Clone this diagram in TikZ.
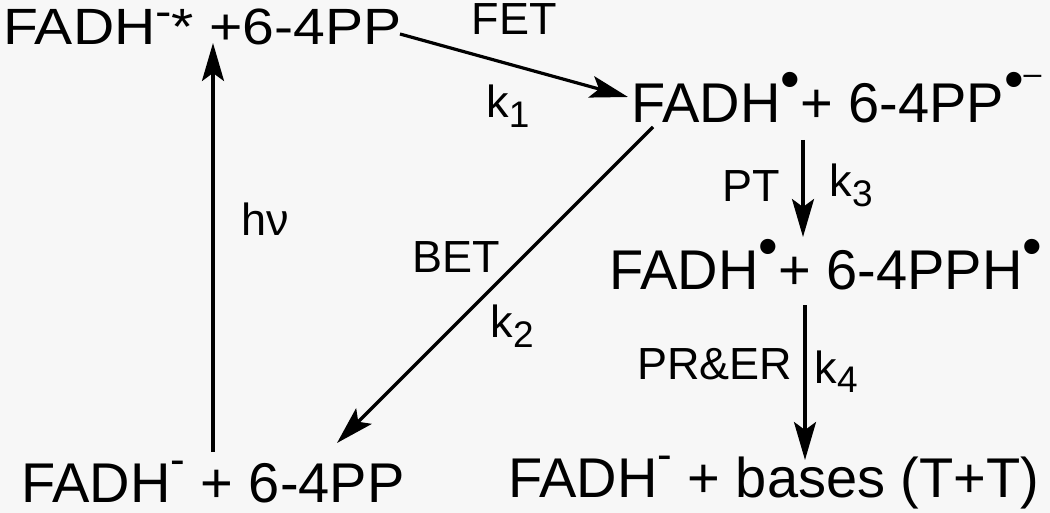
\documentclass[tikz,border=0pt]{standalone}
\usepackage{fontspec}
\setmainfont{Liberation Sans}
\newfontfamily\widesans[FakeStretch=1.12]{Liberation Sans}
\usetikzlibrary{positioning,arrows.meta}
\newcommand{\chg}[2][0.5em]{\raisebox{#1}{\fontsize{44}{44}\selectfont #2}}
\newcommand{\rdot}{\raisebox{0.44em}{\fontsize{56}{56}\selectfont\textbullet}}
\newcommand{\rk}[1]{k\raisebox{-0.22em}{\fontsize{37}{37}\selectfont #1}}

\begin{document}
\begin{tikzpicture}[x=1pt, y=-1pt,
  species/.style={inner sep=0pt, anchor=base west, font=\fontsize{56}{60}\selectfont},
  widespecies/.style={species, font=\widesans\fontsize{51}{56}\selectfont},
  rate/.style={inner sep=0pt, font=\fontsize{45}{50}\selectfont},
  rxn/.style={line width=3.2pt, -{Stealth[length=38pt, width=22pt, inset=8pt]}},
]
\useasboundingbox (0,0) rectangle (1050,513);
\fill[white!97!black] (0,0) rectangle (1050,513);

% species
\node[widespecies] (exc)    at (3,45)    {FADH\chg[0.37em]{-}*};
\node[widespecies] (pp)     at (209,45)  {+6-4PP};
\node[species]     (anion)  at (631,123) {FADH\rdot+ 6-4PP\rdot\chg[0.69em]{\fontsize{32}{32}\selectfont--}};
\node[species]     (neutr)  at (609,290) {FADH\rdot+ 6-4PPH\rdot};
\node[species]     (ground) at (21,502)  {FADH\chg{-} + 6-4PP};
\node[species]     (repair) at (508,497) {FADH\chg{-} + bases (T+T)};

% arrow ends
\coordinate (hvS)  at (213,452);
\coordinate (hvE)  at (213,43);
\coordinate (fetS) at (400,34);
\coordinate (fetE) at (628,97);
\coordinate (betS) at (653,127);
\coordinate (betE) at (337,443);
\coordinate (ptS)  at (803,140);
\coordinate (ptE)  at (803,237);
\coordinate (prS)  at (805,305);
\coordinate (prE)  at (805,460);

\draw[rxn] (hvS) -- (hvE) node[rate, pos=0.57, right=27pt] {hν};
\draw[rxn] (fetS) -- (fetE) node[rate, midway, above=29pt] {FET}
                            node[rate, midway, below=18pt, xshift=-6pt] {\rk{1}};
\draw[rxn] (betS) -- (betE) node[rate, pos=0.41, left=22pt] {BET}
                            node[rate, pos=0.63, right=35pt] {\rk{2}};
\draw[rxn] (ptS) -- (ptE) node[rate, pos=0.47, left=21pt] {PT}
                          node[rate, pos=0.47, right=25pt] {\rk{3}};
\draw[rxn] (prS) -- (prE) node[rate, pos=0.38, left=11pt] {PR\&ER}
                          node[rate, pos=0.43, right=8pt] {\rk{4}};

\end{tikzpicture}
\end{document}
